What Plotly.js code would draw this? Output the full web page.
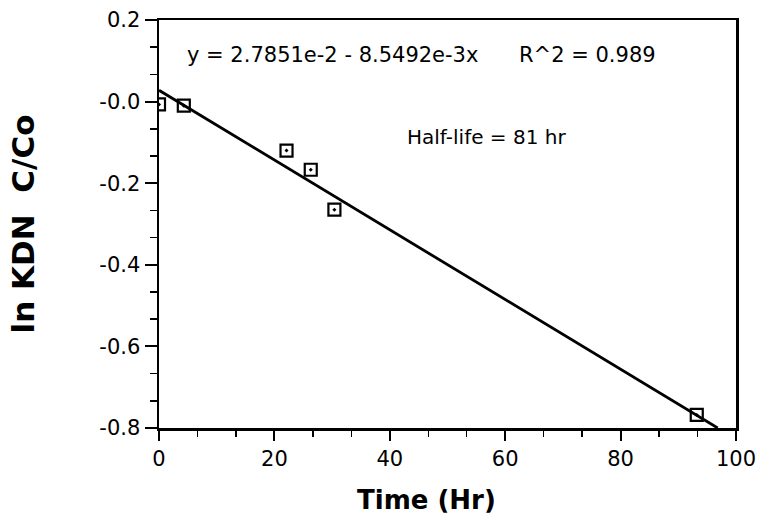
<!DOCTYPE html>
<html>
<head>
<meta charset="utf-8">
<script src="https://cdn.plot.ly/plotly-3.0.1.min.js"></script>
<style>html,body{margin:0;padding:0;background:#fff;}#chart{width:761px;height:519px;}</style>
</head>
<body>
<div id="chart"></div>
<script>
// Data
var timeHr = [0, 4.3, 22.1, 26.3, 30.4, 93.2];
var lnC = [-0.007, -0.010, -0.120, -0.167, -0.265, -0.768];
var fitIntercept = 0.027851;
var fitSlope = -0.0085492;
var fitX = [0, 96.83];
var fitY = fitX.map(function (x) { return fitIntercept + fitSlope * x; });
var yTickVals = [0.2, 0, -0.2, -0.4, -0.6, -0.8];
var yTickText = ["0.2", "-0.0", "-0.2", "-0.4", "-0.6", "-0.8"];
var xTickVals = [0, 20, 40, 60, 80, 100];
var xTickText = ["0", "20", "40", "60", "80", "100"];

var font = "DejaVu Sans, Arial, sans-serif";

var traces = [
  {
    x: fitX, y: fitY, mode: "lines", type: "scatter",
    line: {color: "#000", width: 2.8}, hoverinfo: "skip", showlegend: false
  },
  {
    x: timeHr, y: lnC, mode: "markers", type: "scatter",
    marker: {symbol: "square-open-dot", size: 12, color: "#000", line: {color: "#000", width: 2.2}},
    cliponaxis: true, showlegend: false
  }
];

var layout = {
  width: 761, height: 519,
  margin: {l: 159, r: 25, t: 20, b: 91},
  paper_bgcolor: "#fff", plot_bgcolor: "#fff",
  font: {family: font, color: "#000", size: 21},
  showlegend: false,
  xaxis: {
    range: [0, 100], tickmode: "array", tickvals: xTickVals, ticktext: xTickText,
    ticks: "outside", ticklen: 10, tickwidth: 2, tickcolor: "#000",
    minor: {dtick: 20 / 3, tick0: 0, ticks: "outside", ticklen: 6, tickwidth: 1.5, tickcolor: "#000"},
    showline: true, linewidth: 2.5, linecolor: "#000", mirror: true,
    showgrid: false, zeroline: false,
    tickfont: {family: font, size: 21, color: "#000"}
  },
  yaxis: {
    range: [-0.8, 0.2], tickmode: "array", tickvals: yTickVals, ticktext: yTickText,
    ticks: "outside", ticklen: 12, tickwidth: 2, tickcolor: "#000",
    minor: {dtick: 0.2 / 3, tick0: 0, ticks: "outside", ticklen: 7, tickwidth: 1.5, tickcolor: "#000"},
    showline: true, linewidth: 2.5, linecolor: "#000", mirror: true,
    showgrid: false, zeroline: false,
    tickfont: {family: font, size: 21, color: "#000"},
    title: {text: "<b>ln KDN  C/Co</b>", font: {family: font, size: 31, color: "#000"}, standoff: 56}
  },
  annotations: [
    {xref: "paper", yref: "paper", x: (426 - 159) / 577, y: (428 - 500) / 408,
     xanchor: "center", yanchor: "middle", showarrow: false,
     text: "<b>Time (Hr)</b>", font: {family: font, size: 26, color: "#000"}},
    {xref: "paper", yref: "paper", x: (185 - 159) / 577, y: (428 - 55) / 408,
     xanchor: "left", yanchor: "middle", showarrow: false,
     text: "y = 2.7851e-2 - 8.5492e-3x", font: {family: font, size: 21, color: "#000"}},
    {xref: "paper", yref: "paper", x: (517 - 159) / 577, y: (428 - 55) / 408,
     xanchor: "left", yanchor: "middle", showarrow: false,
     text: "R^2 = 0.989", font: {family: font, size: 21, color: "#000"}},
    {xref: "paper", yref: "paper", x: (405 - 159) / 577, y: (428 - 137) / 408,
     xanchor: "left", yanchor: "middle", showarrow: false,
     text: "Half-life = 81 hr", font: {family: font, size: 20, color: "#000"}}
  ]
};

Plotly.newPlot("chart", traces, layout, {staticPlot: true, displayModeBar: false});
</script>
</body>
</html>
